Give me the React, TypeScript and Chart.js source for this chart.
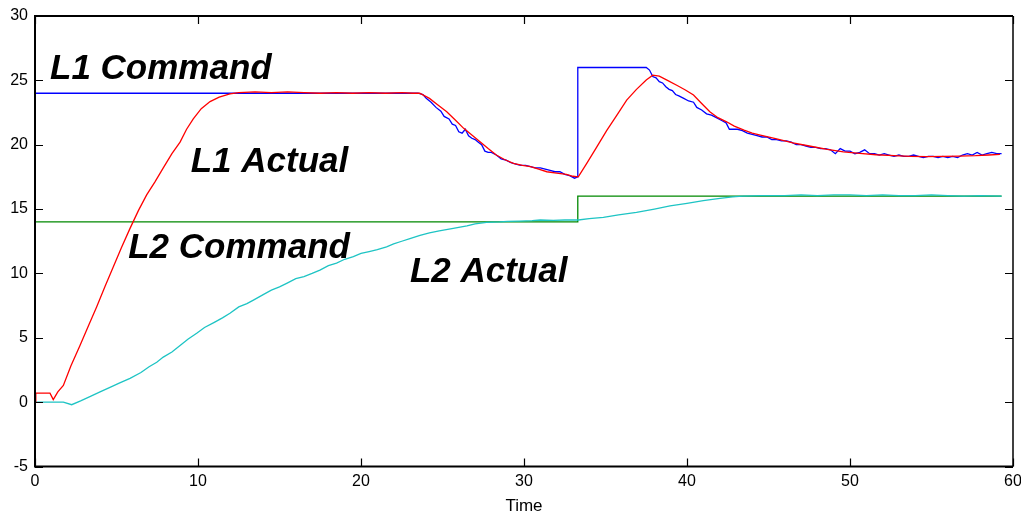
import React, { useEffect, useRef } from "react";
import { Chart, registerables } from "chart.js";

Chart.register(...registerables);

// ---- data ----
const l1CmdT = [0, 23.5, 23.8, 24.0, 24.3, 24.6, 24.9, 25.1, 25.4, 25.6, 25.8, 26.0, 26.2, 26.4, 26.6, 26.8, 27.0, 27.2, 27.4, 27.6, 27.8, 28.0, 28.3, 28.6, 28.9, 29.2, 29.5, 29.8, 30.1, 30.4, 30.7, 31.0, 31.3, 31.6, 31.9, 32.2, 32.5, 32.8, 33.1, 33.3, 33.3, 37.5, 37.7, 37.9, 38.1, 38.3, 38.5, 38.7, 38.9, 39.1, 39.3, 39.5, 39.8, 40.1, 40.4, 40.6, 40.9, 41.2, 41.5, 41.8, 42.1, 42.4, 42.6, 42.8, 43.1, 43.4, 43.7, 44.0, 44.3, 44.6, 44.9, 45.2, 45.5, 45.8, 46.1, 46.4, 46.7, 47.0, 47.3, 47.6, 47.9, 48.2, 48.5, 48.8, 49.1, 49.4, 49.7, 50.0, 50.3, 50.6, 50.9, 51.2, 51.5, 51.8, 52.1, 52.4, 52.7, 53.0, 53.3, 53.6, 53.9, 54.2, 54.5, 54.8, 55.1, 55.4, 55.7, 56.0, 56.3, 56.6, 56.9, 57.2, 57.5, 57.8, 58.1, 58.4, 58.7, 59.0, 59.3];
const l1CmdV = [24, 24, 23.9, 23.6, 23.3, 22.9, 22.6, 22.2, 22.0, 21.6, 21.5, 21.0, 20.9, 21.2, 20.7, 20.5, 20.4, 20.2, 20.0, 19.5, 19.4, 19.4, 19.2, 18.9, 18.8, 18.6, 18.5, 18.4, 18.4, 18.3, 18.2, 18.2, 18.1, 18.0, 17.9, 17.9, 17.7, 17.6, 17.4, 17.5, 26.0, 26.0, 25.8, 25.3, 25.2, 24.9, 24.8, 24.5, 24.3, 24.2, 23.9, 23.8, 23.6, 23.4, 23.3, 22.9, 22.7, 22.4, 22.3, 22.1, 21.9, 21.7, 21.2, 21.2, 21.2, 21.1, 20.9, 20.8, 20.7, 20.6, 20.6, 20.4, 20.4, 20.3, 20.3, 20.2, 20.0, 20.0, 19.9, 19.8, 19.8, 19.7, 19.7, 19.6, 19.3, 19.7, 19.5, 19.5, 19.3, 19.4, 19.6, 19.3, 19.3, 19.2, 19.3, 19.2, 19.1, 19.2, 19.1, 19.1, 19.2, 19.1, 19.0, 19.1, 19.1, 19.0, 19.1, 19.0, 19.1, 19.0, 19.2, 19.3, 19.2, 19.4, 19.2, 19.3, 19.4, 19.3, 19.3];

const l1ActT = [0, 0.05, 0.92, 1.12, 1.4, 1.74, 2.2, 2.76, 3.3, 3.78, 4.3, 4.8, 5.3, 5.83, 6.35, 6.85, 7.35, 7.87, 8.4, 8.9, 9.3, 9.71, 10.2, 10.74, 11.3, 11.96, 12.5, 13.5, 14.5, 15.5, 16.5, 17.5, 18.5, 19.5, 20.5, 21.5, 22.5, 23.2, 23.6, 24.2, 24.7, 25.26, 25.8, 26.3, 26.8, 27.3, 27.8, 28.3, 28.8, 29.35, 29.9, 30.4, 30.9, 31.4, 32.0, 32.6, 33.0, 33.33, 33.85, 34.45, 35.07, 35.7, 36.3, 36.9, 37.5, 37.9, 38.3, 38.8, 39.4, 39.9, 40.4, 40.9, 41.4, 41.9, 42.4, 42.9, 43.5, 44.0, 44.5, 45.5, 46.5, 47.5, 48.6, 49.6, 50.6, 51.6, 52.7, 53.7, 54.7, 55.7, 56.7, 57.7, 58.5, 59.2];
const l1ActV = [0, 0.7, 0.7, 0.2, 0.8, 1.3, 2.8, 4.4, 6.0, 7.4, 9.0, 10.5, 12.0, 13.5, 14.9, 16.1, 17.1, 18.2, 19.3, 20.2, 21.2, 22.0, 22.8, 23.35, 23.7, 23.95, 24.05, 24.1, 24.05, 24.1, 24.05, 24.0, 24.05, 24.0, 24.05, 24.0, 24.05, 24.0, 24.0, 23.6, 23.1, 22.56, 21.9, 21.27, 20.75, 20.23, 19.7, 19.2, 18.85, 18.55, 18.4, 18.3, 18.1, 17.9, 17.8, 17.7, 17.55, 17.5, 18.55, 19.8, 21.1, 22.3, 23.47, 24.3, 25.03, 25.4, 25.33, 25.0, 24.6, 24.25, 23.86, 23.2, 22.56, 22.1, 21.8, 21.45, 21.14, 20.9, 20.75, 20.45, 20.15, 19.9, 19.64, 19.45, 19.33, 19.22, 19.15, 19.1, 19.07, 19.1, 19.12, 19.15, 19.2, 19.25];

const l2CmdT = [0, 33.3, 33.3, 59.3];
const l2CmdV = [14, 14, 16, 16];

const l2ActT = [0, 1.74, 2.25, 2.8, 3.4, 3.99, 4.6, 5.2, 5.83, 6.5, 7.0, 7.47, 7.87, 8.4, 8.9, 9.4, 9.92, 10.4, 11.0, 11.5, 11.96, 12.5, 13.0, 13.4, 14.0, 14.5, 15.0, 15.44, 16.0, 16.5, 17.0, 17.48, 18.0, 18.5, 19.0, 19.53, 20.0, 20.5, 21.0, 21.57, 22.0, 22.5, 23.0, 23.62, 24.2, 24.8, 25.66, 26.5, 27.0, 27.7, 28.5, 29.0, 29.75, 30.5, 31.0, 31.8, 32.5, 33.33, 34.0, 34.87, 35.8, 36.9, 38.0, 38.96, 40.0, 41.0, 42.02, 42.8, 43.4, 44.5, 46, 47, 48, 49, 50, 51, 52, 53, 54, 55, 56, 57, 58, 59.3];
const l2ActV = [0, 0, -0.2, 0.1, 0.45, 0.8, 1.15, 1.5, 1.85, 2.3, 2.75, 3.1, 3.5, 3.9, 4.4, 4.9, 5.35, 5.8, 6.2, 6.55, 6.9, 7.4, 7.65, 7.93, 8.35, 8.7, 8.95, 9.23, 9.6, 9.75, 10.0, 10.26, 10.6, 10.8, 11.1, 11.3, 11.55, 11.7, 11.85, 12.07, 12.3, 12.5, 12.7, 12.95, 13.15, 13.3, 13.5, 13.7, 13.85, 13.97, 14.0, 14.05, 14.07, 14.1, 14.15, 14.12, 14.15, 14.15, 14.25, 14.36, 14.55, 14.75, 15.0, 15.24, 15.45, 15.65, 15.83, 15.95, 16.0, 16.05, 16.05, 16.1, 16.05, 16.1, 16.1, 16.05, 16.1, 16.05, 16.05, 16.1, 16.05, 16.0, 16.05, 16.0];

const xTicks = [0, 10, 20, 30, 40, 50, 60];
const yTicks = [-5, 0, 5, 10, 15, 20, 25, 30];

const labelTexts = ["L1 Command", "L1 Actual", "L2 Command", "L2 Actual"];
const labelX = [0.92, 9.55, 5.72, 23.0];
const labelY = [25.1, 17.88, 11.16, 9.37];

const pts = (t: number[], v: number[]) => t.map((x, i) => ({ x, y: v[i] }));

const framePlugin = {
  id: "frame",
  afterDatasetsDraw(chart: any) {
    const { ctx, chartArea: a, scales } = chart;
    ctx.save();
    ctx.strokeStyle = "#000";
    ctx.lineWidth = 1.2;
    const len = 8;
    ctx.beginPath();
    xTicks.forEach((t) => {
      const px = Math.round(scales.x.getPixelForValue(t)) + 0.5;
      ctx.moveTo(px, a.bottom);
      ctx.lineTo(px, a.bottom - len);
      ctx.moveTo(px, a.top);
      ctx.lineTo(px, a.top + len);
    });
    yTicks.forEach((t) => {
      const py = Math.round(scales.y.getPixelForValue(t)) + 0.5;
      ctx.moveTo(a.left, py);
      ctx.lineTo(a.left + len, py);
      ctx.moveTo(a.right, py);
      ctx.lineTo(a.right - len, py);
    });
    ctx.stroke();
    ctx.lineWidth = 2;
    ctx.beginPath();
    ctx.moveTo(a.right, a.top);
    ctx.lineTo(a.left, a.top);
    ctx.lineTo(a.left, a.bottom);
    ctx.lineTo(a.right, a.bottom);
    ctx.stroke();
    ctx.lineWidth = 1.5;
    ctx.beginPath();
    ctx.moveTo(a.right, a.top);
    ctx.lineTo(a.right, a.bottom);
    ctx.stroke();
    ctx.fillStyle = "#000";
    ctx.font = "italic bold 35px 'Liberation Sans', Arial, sans-serif";
    ctx.textAlign = "left";
    ctx.textBaseline = "alphabetic";
    labelTexts.forEach((s, i) => {
      ctx.fillText(s, scales.x.getPixelForValue(labelX[i]), scales.y.getPixelForValue(labelY[i]));
    });
    ctx.restore();
  },
};

export default function App() {
  const ref = useRef<HTMLCanvasElement>(null);
  useEffect(() => {
    if (!ref.current) return;
    const common = { pointRadius: 0, borderWidth: 1.3, tension: 0, fill: false };
    const chart = new Chart(ref.current, {
      type: "line",
      data: {
        datasets: [
          { ...common, label: "L1 Actual", data: pts(l1ActT, l1ActV), borderColor: "#ff0000" },
          { ...common, label: "L1 Command", data: pts(l1CmdT, l1CmdV), borderColor: "#0000ff" },
          { ...common, label: "L2 Actual", data: pts(l2ActT, l2ActV), borderColor: "#1ec4c4" },
          { ...common, label: "L2 Command", data: pts(l2CmdT, l2CmdV), borderColor: "#008800" },
        ],
      },
      options: {
        animation: false,
        responsive: false,
        maintainAspectRatio: false,
        layout: { padding: { top: 16, right: 8, left: 0, bottom: 0 } },
        plugins: { legend: { display: false }, tooltip: { enabled: false } },
        scales: {
          x: {
            type: "linear",
            min: 0,
            max: 60,
            afterFit: (s: any) => { s.height = 49.5; s.paddingLeft = 0; s.paddingRight = 0; },
            afterBuildTicks: (s: any) => { s.ticks = xTicks.map((v) => ({ value: v })); },
            grid: { display: false, drawTicks: false },
            border: { display: false },
            ticks: { color: "#000", padding: 5, font: { family: "'Liberation Sans', Arial", size: 16 } },
            title: { display: true, text: "Time", color: "#000", padding: { top: 0, bottom: -1 }, font: { family: "'Liberation Sans', Arial", size: 17 } },
          },
          y: {
            type: "linear",
            min: -5,
            max: 30,
            afterFit: (s: any) => { s.width = 35; s.paddingTop = 0; s.paddingBottom = 0; },
            afterBuildTicks: (s: any) => { s.ticks = yTicks.map((v) => ({ value: v })); },
            grid: { display: false, drawTicks: false },
            border: { display: false },
            ticks: { color: "#000", padding: 7, font: { family: "'Liberation Sans', Arial", size: 16 } },
          },
        },
      },
      plugins: [framePlugin],
    });
    return () => chart.destroy();
  }, []);
  return (
    <div style={{ position: "fixed", left: 0, top: 0, width: 1021, height: 516, background: "#fff" }}>
      <canvas ref={ref} width={1021} height={516} style={{ width: 1021, height: 516, display: "block" }} />
    </div>
  );
}
